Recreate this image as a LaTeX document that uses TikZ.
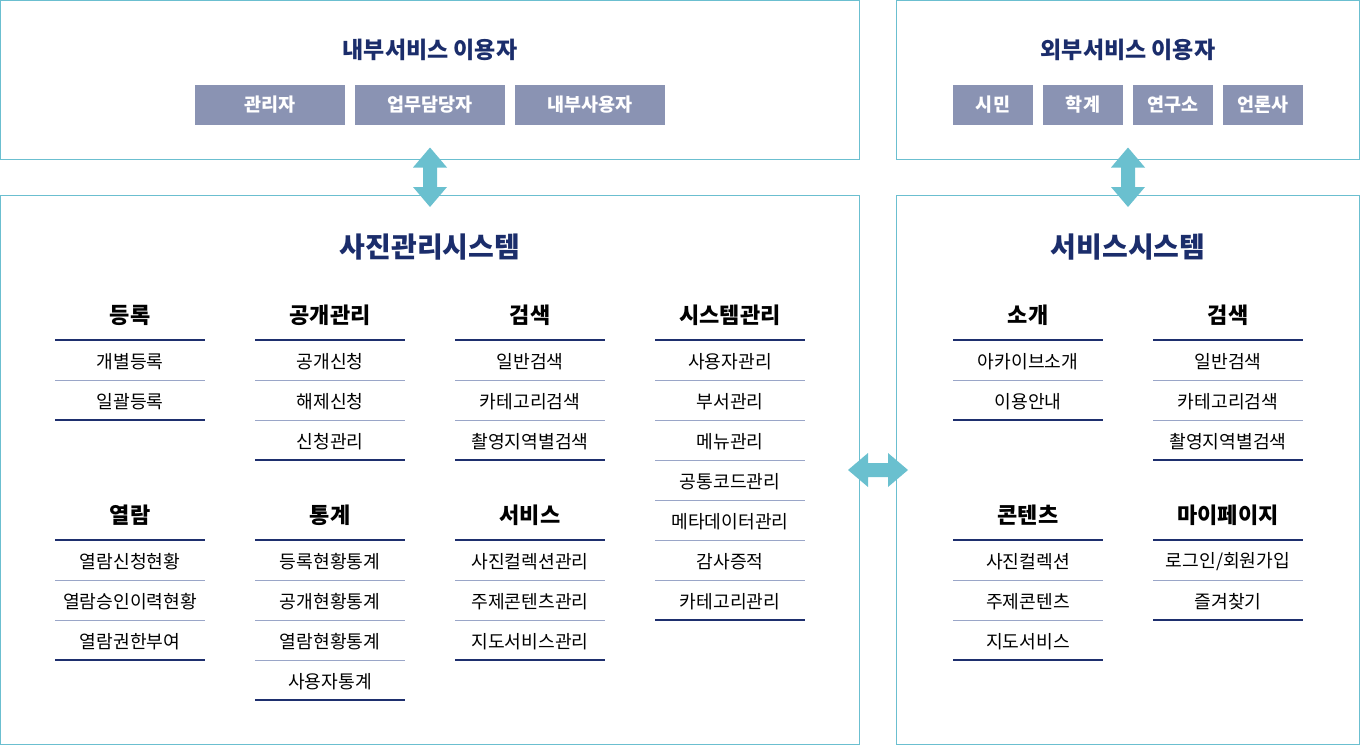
\documentclass[tikz,border=0pt]{standalone}
\usepackage{fontspec}
\setmainfont{Noto Sans CJK KR}
\definecolor{frame}{HTML}{6BBFD0}
\definecolor{arrowc}{HTML}{6AC0CF}
\definecolor{navy}{HTML}{1B2D6B}
\definecolor{rolefill}{HTML}{8A93B3}
\definecolor{darkline}{HTML}{1E2F6E}
\definecolor{lightline}{HTML}{9AA6C8}
\tikzset{
  framebox/.style={draw=frame, line width=1pt, inner sep=0pt},
  maintitle/.style={font=\fontsize{28}{32}\selectfont\bfseries, text=navy, inner sep=0pt},
  usertitle/.style={font=\fontsize{23}{27}\selectfont\bfseries, text=navy, inner sep=0pt},
  rolebox/.style={fill=rolefill, text=white, minimum height=40pt, inner sep=0pt, font=\fontsize{18.5}{22}\selectfont\bfseries},
  colhead/.style={font=\fontsize{22}{26}\selectfont\bfseries, text=black, inner sep=0pt},
  item/.style={font=\fontsize{18.2}{22}\selectfont, text=black, inner sep=0pt},
  darkrule/.style={draw=darkline, line width=2pt},
  lightrule/.style={draw=lightline, line width=1pt},
  blockarrow/.style={fill=arrowc, draw=none},
}
\newcommand\mkcol[5]{%
  \node[colhead] (#1) at (#2,#3) {#4};
  \foreach \t [count=\i] in {#5} {
    \node[item] (#1-\i) at (#2,#3+6.5+40*\i) {\t};
    \draw[lightrule] (#2-75,#3+25+40*\i) -- (#2+75,#3+25+40*\i);
    \xdef\lastn{\i}
  }
  \draw[darkrule] (#2-75,#3+25) -- (#2+75,#3+25);
  \draw[darkrule] (#2-75,#3+25+40*\lastn) -- (#2+75,#3+25+40*\lastn);
}
\begin{document}
\begin{tikzpicture}[x=1pt,y=-1pt]
\useasboundingbox (0,0) rectangle (1360,745);
% frames
\node[framebox, minimum width=859pt, minimum height=159pt] (inner) at (430,80) {};
\node[framebox, minimum width=463pt, minimum height=159pt] (outer) at (1128,80) {};
\node[framebox, minimum width=859pt, minimum height=549pt] (photo) at (430,470) {};
\node[framebox, minimum width=463pt, minimum height=549pt] (service) at (1128,470) {};
% user titles
\node[usertitle] (innert) at (430,50) {내부서비스 이용자};
\node[usertitle] (outert) at (1128,50) {외부서비스 이용자};
\node[rolebox, minimum width=150pt] (r1) at (270,105) {관리자};
\node[rolebox, minimum width=150pt] (r2) at (430,105) {업무담당자};
\node[rolebox, minimum width=150pt] (r3) at (590,105) {내부사용자};
\node[rolebox, minimum width=80pt] (o1) at (993,105) {시민};
\node[rolebox, minimum width=80pt] (o2) at (1083,105) {학계};
\node[rolebox, minimum width=80pt] (o3) at (1173,105) {연구소};
\node[rolebox, minimum width=80pt] (o4) at (1263,105) {언론사};
% main titles
\node[maintitle] (photot) at (430,247) {사진관리시스템};
\node[maintitle] (servicet) at (1128,247) {서비스시스템};
% columns
\mkcol{c1}{130}{315}{등록}{개별등록,일괄등록}
\mkcol{c2}{330}{315}{공개관리}{공개신청,해제신청,신청관리}
\mkcol{c3}{530}{315}{검색}{일반검색,카테고리검색,촬영지역별검색}
\mkcol{c4}{730}{315}{시스템관리}{사용자관리,부서관리,메뉴관리,공통코드관리,메타데이터관리,감사증적,카테고리관리}
\mkcol{c5}{130}{515}{열람}{열람신청현황,열람승인이력현황,열람권한부여}
\mkcol{c6}{330}{515}{통계}{등록현황통계,공개현황통계,열람현황통계,사용자통계}
\mkcol{c7}{530}{515}{서비스}{사진컬렉션관리,주제콘텐츠관리,지도서비스관리}
\mkcol{s1}{1028}{315}{소개}{아카이브소개,이용안내}
\mkcol{s2}{1228}{315}{검색}{일반검색,카테고리검색,촬영지역별검색}
\mkcol{s3}{1028}{515}{콘텐츠}{사진컬렉션,주제콘텐츠,지도서비스}
\mkcol{s4}{1228}{515}{마이페이지}{로그인/회원가입,즐겨찾기}
% block arrows
\foreach \cx in {430,1128} {
  \fill[blockarrow] (\cx,147.5) -- (\cx+17,167.5) -- (\cx+7,167.5) -- (\cx+7,187) -- (\cx+17,187)
     -- (\cx,207) -- (\cx-17,187) -- (\cx-7,187) -- (\cx-7,167.5) -- (\cx-17,167.5) -- cycle;
}
\fill[blockarrow] (848,470) -- (868,453) -- (868,463) -- (888,463) -- (888,453) -- (908,470)
   -- (888,487) -- (888,477) -- (868,477) -- (868,487) -- cycle;
\end{tikzpicture}
\end{document}
